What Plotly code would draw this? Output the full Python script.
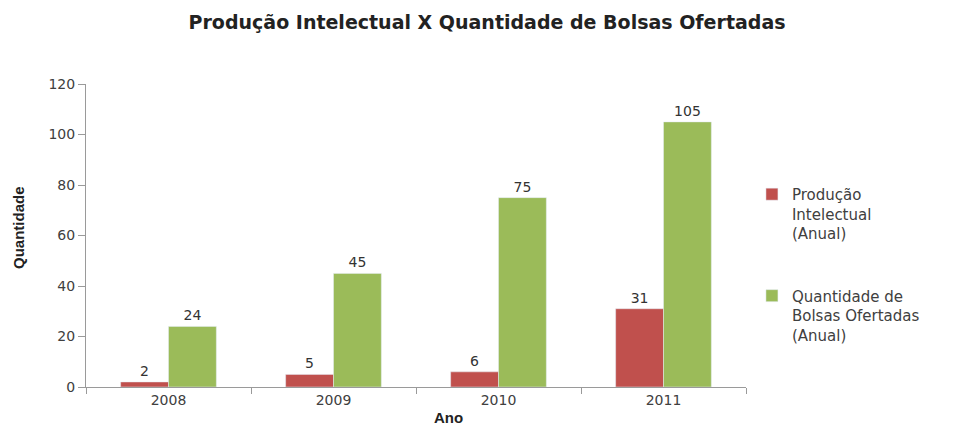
import plotly.graph_objects as go

anos = ["2008", "2009", "2010", "2011"]
producao = [2, 5, 6, 31]
bolsas = [24, 45, 75, 105]

nome_producao = "Produção<br>Intelectual<br>(Anual)"
nome_bolsas = "Quantidade de<br>Bolsas Ofertadas<br>(Anual)"

FONTE = "DejaVu Sans, Verdana, sans-serif"

fig = go.Figure()
fig.add_trace(go.Bar(
    x=anos, y=producao, name=nome_producao, legendgroup="producao",
    marker=dict(color="#C0504D"),
    text=producao, textposition="outside",
    textfont=dict(size=14, color="#333333", family=FONTE),
    cliponaxis=False,
))
fig.add_trace(go.Bar(
    x=anos, y=bolsas, name=nome_bolsas, legendgroup="bolsas",
    marker=dict(color="#9BBB59"),
    text=bolsas, textposition="outside",
    textfont=dict(size=14, color="#333333", family=FONTE),
    cliponaxis=False,
))

fig.update_layout(
    width=955, height=425,
    margin=dict(l=86, r=209, t=84, b=38, autoexpand=False),
    paper_bgcolor="white", plot_bgcolor="white",
    font=dict(family=FONTE, size=14, color="#404040"),
    barmode="group", bargap=0.42, bargroupgap=0,
    title=dict(
        text="<b>Produção Intelectual X Quantidade de Bolsas Ofertadas</b>",
        x=0.51, xanchor="center", y=0.948, yanchor="middle",
        font=dict(size=19, color="#222222", family=FONTE),
    ),
    legend=dict(
        x=1.009, xanchor="left", y=0.69, yanchor="top",
        font=dict(size=15, color="#404040", family=FONTE),
        tracegroupgap=40, valign="top", itemwidth=30,
    ),
    showlegend=True,
)
fig.update_xaxes(
    type="category", showline=True, linecolor="#9a9a9a", linewidth=1,
    ticks="outside", tickson="boundaries", ticklen=6, tickcolor="#9a9a9a",
    tickfont=dict(size=14, color="#404040", family=FONTE), showgrid=False,
    automargin=False,
)
fig.update_yaxes(
    range=[0, 120], dtick=20, showline=True, linecolor="#9a9a9a", linewidth=1,
    ticks="outside", ticklen=7, tickcolor="#9a9a9a", showgrid=False,
    zeroline=False, automargin=False,
    tickfont=dict(size=14, color="#404040", family=FONTE),
)

# Axis titles placed as annotations (x title sits right of the axis centre)
fig.add_annotation(
    text="<b>Ano</b>", xref="paper", yref="paper",
    x=(448 - 86) / 660, y=-20 / 303, xanchor="center", yanchor="top",
    showarrow=False, font=dict(size=15, color="#222222", family="Liberation Sans, Arial, sans-serif"),
)
fig.add_annotation(
    text="<b>Quantidade</b>", xref="paper", yref="paper",
    x=(18 - 86) / 660, y=(387 - 228) / 303, xanchor="center", yanchor="middle",
    textangle=-90, showarrow=False,
    font=dict(size=15, color="#222222", family="Liberation Sans Narrow, Arial Narrow, sans-serif"),
)

fig.write_html("out.html")
